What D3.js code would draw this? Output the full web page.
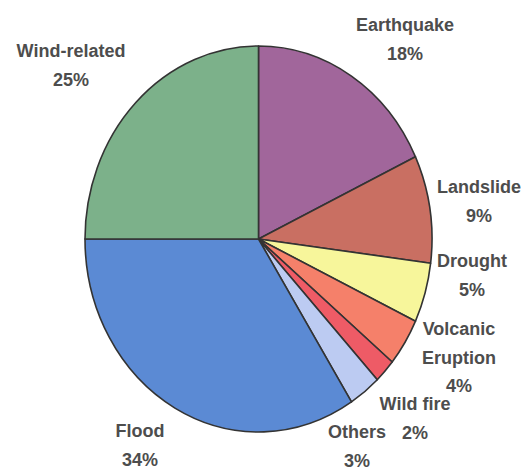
<!DOCTYPE html>
<html>
<head>
<meta charset="utf-8">
<script src="https://cdn.jsdelivr.net/npm/d3@7"></script>
<style>
  body { margin: 0; background: #fff; }
  svg { display: block; }
</style>
</head>
<body>
<script>
// Disaster types, clockwise from 12 o'clock
const categories = ["Earthquake", "Landslide", "Drought", "Volcanic Eruption", "Wild fire", "Others", "Flood", "Wind-related"];
const values = [18, 9, 5, 4, 2, 3, 34, 25];
const colors = ["#a1669b", "#c96f62", "#f7f69b", "#f5806a", "#ee5b66", "#bccbf2", "#5b8ad4", "#7cb18a"];

// label lines and where they sit (centre x, first baseline)
const labelLines = [
    ["Earthquake", "18%"],
    ["Landslide", "9%"],
    ["Drought", "5%"],
    ["Volcanic", "Eruption", "4%"],
    ["Wild fire", "2%"],
    ["Others", "3%"],
    ["Flood", "34%"],
    ["Wind-related", "25%"]
];
const labelPos = [[405, 31], [479, 193], [472, 267], [459, 335], [415, 410], [357, 438], [140, 437], [71, 57]];

const width = 524;
const height = 469;
const cx = 258.5, cy = 239;
const rx = 173.5, ry = 193;

const svg = d3.select("body").append("svg")
    .attr("width", width)
    .attr("height", height);

const pie = d3.pie().sort(null).value(d => d.value);
const arc = d3.arc().innerRadius(0).outerRadius(rx);

const data = categories.map((c, i) => ({ name: c, value: values[i], color: colors[i] }));

const g = svg.append("g")
    .attr("transform", `translate(${cx},${cy}) scale(1,${ry / rx})`);

g.selectAll("path")
    .data(pie(data))
    .enter()
    .append("path")
    .attr("d", arc)
    .attr("fill", d => d.data.color)
    .attr("stroke", "#333")
    .attr("stroke-width", 1.6)
    .attr("stroke-linejoin", "round")
    .attr("vector-effect", "non-scaling-stroke");

const labels = svg.append("g")
    .attr("font-family", "'Liberation Sans', Arial, sans-serif")
    .attr("font-weight", "bold")
    .attr("font-size", 18)
    .attr("fill", "#4d4d4d")
    .attr("text-anchor", "middle");

labelLines.forEach((lines, i) => {
    const t = labels.append("text");
    lines.forEach((s, j) => {
        t.append("tspan")
            .attr("x", labelPos[i][0])
            .attr("y", labelPos[i][1] + j * 28.5)
            .text(s);
    });
});
</script>
</body>
</html>
